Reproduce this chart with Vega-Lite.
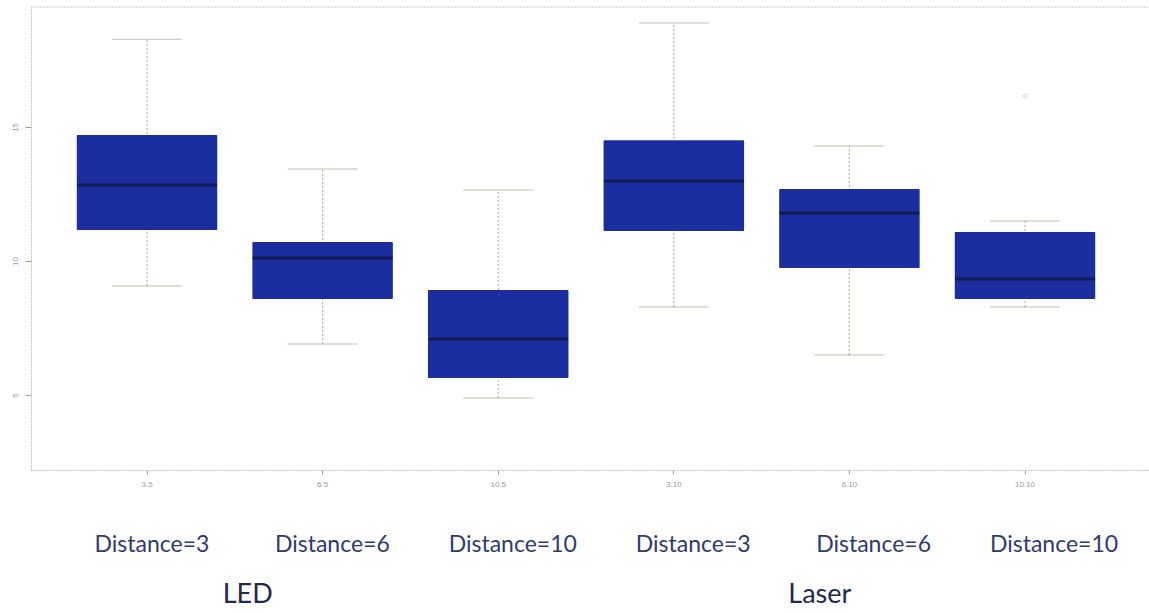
{
  "$schema": "https://vega.github.io/schema/vega-lite/v6.json",
  "autosize": {"type": "none"},
  "padding": {"left": 31, "top": 7, "right": 0, "bottom": 143},
  "width": 1118,
  "height": 463,
  "background": "white",
  "config": {
    "view": {"stroke": null},
    "font": "Lato"
  },
  "datasets": {
    "boxes": [
      {"group": "3.5", "lo": 9.07, "q1": 11.16, "med": 12.84, "q3": 14.70, "hi": 18.28},
      {"group": "6.5", "lo": 6.90, "q1": 8.58, "med": 10.11, "q3": 10.71, "hi": 13.43},
      {"group": "10.5", "lo": 4.89, "q1": 5.63, "med": 7.09, "q3": 8.92, "hi": 12.65},
      {"group": "3.10", "lo": 8.28, "q1": 11.12, "med": 12.99, "q3": 14.51, "hi": 18.88},
      {"group": "6.10", "lo": 6.49, "q1": 9.74, "med": 11.79, "q3": 12.69, "hi": 14.29},
      {"group": "10.10", "lo": 8.28, "q1": 8.58, "med": 9.33, "q3": 11.08, "hi": 11.49}
    ],
    "outliers": [
      {"group": "10.10", "value": 16.16}
    ],
    "frame": [
      {"top": 19.48}
    ],
    "labels": [
      {"group": "3.5", "label": "Distance=3"},
      {"group": "6.5", "label": "Distance=6"},
      {"group": "10.5", "label": "Distance=10"},
      {"group": "3.10", "label": "Distance=3"},
      {"group": "6.10", "label": "Distance=6"},
      {"group": "10.10", "label": "Distance=10"}
    ],
    "sources": [
      {"source": "LED"},
      {"source": "Laser"}
    ]
  },
  "layer": [
    {
      "data": {"name": "boxes"},
      "encoding": {
        "x": {
          "field": "group",
          "type": "nominal",
          "sort": null,
          "scale": {"type": "band", "paddingInner": 0.2, "paddingOuter": 0.2834, "align": 0.46},
          "axis": {
            "title": null,
            "domain": true,
            "domainColor": "#c4c6a8",
            "domainDash": [2, 1],
            "grid": false,
            "labelAngle": 0,
            "labelFontSize": 8,
            "labelColor": "#9a9a9a",
            "labelFont": "Liberation Sans",
            "labelPadding": 6,
            "tickColor": "#9aa080",
            "tickSize": 4
          }
        }
      },
      "layer": [
        {
          "data": {"name": "frame"},
          "mark": {"type": "rule", "color": "#c9c9b2", "strokeDash": [2, 1], "strokeWidth": 1},
          "encoding": {
            "x": null,
            "y": {"field": "top", "type": "quantitative"}
          }
        },
        {
          "mark": {"type": "rule", "color": "#a9ae8c", "strokeDash": [2, 2], "strokeWidth": 1},
          "encoding": {
            "y": {
              "field": "lo",
              "type": "quantitative",
              "scale": {"domain": [2.2, 19.48], "nice": false, "zero": false},
              "axis": {
                "title": null,
                "values": [5, 10, 15],
                "grid": false,
                "domain": true,
                "domainColor": "#c4c6a8",
                "domainDash": [2, 1],
                "labelAngle": -90,
                "labelAlign": "center",
                "labelBaseline": "middle",
                "labelFontSize": 8,
                "labelColor": "#9a9a9a",
                "labelFont": "Liberation Sans",
                "labelPadding": 10,
                "tickColor": "#9aa080",
                "tickSize": 6
              }
            },
            "y2": {"field": "hi"}
          }
        },
        {
          "mark": {"type": "tick", "color": "#a3a985", "size": 70, "thickness": 1, "strokeDash": [2, 1]},
          "encoding": {"y": {"field": "lo", "type": "quantitative"}}
        },
        {
          "mark": {"type": "tick", "color": "#a3a985", "size": 70, "thickness": 1, "strokeDash": [2, 1]},
          "encoding": {"y": {"field": "hi", "type": "quantitative"}}
        },
        {
          "mark": {"type": "bar", "color": "#1b2ea0", "cornerRadius": 1},
          "encoding": {
            "y": {"field": "q1", "type": "quantitative"},
            "y2": {"field": "q3"}
          }
        },
        {
          "mark": {"type": "tick", "color": "#0f1535", "size": 140, "thickness": 3},
          "encoding": {"y": {"field": "med", "type": "quantitative"}}
        },
        {
          "data": {"name": "outliers"},
          "mark": {"type": "point", "shape": "circle", "filled": false, "color": "#b0b0b0", "size": 12, "strokeWidth": 0.8},
          "encoding": {"y": {"field": "value", "type": "quantitative"}}
        }
      ]
    },
    {
      "data": {"name": "labels"},
      "mark": {"type": "text", "font": "Lato", "fontSize": 23, "color": "#2e3b6e", "baseline": "middle", "align": "center"},
      "encoding": {
        "x": {
          "field": "group",
          "type": "nominal",
          "sort": null,
          "scale": {"type": "band", "paddingInner": 0, "paddingOuter": 0.0986, "align": 0.865},
          "axis": null
        },
        "y": {"datum": -0.6, "type": "quantitative"},
        "text": {"field": "label"}
      }
    },
    {
      "data": {"name": "sources"},
      "mark": {"type": "text", "font": "Lato", "fontSize": 27, "color": "#1f2a4d", "baseline": "middle", "align": "center"},
      "encoding": {
        "x": {
          "field": "source",
          "type": "nominal",
          "sort": null,
          "scale": {"type": "point", "padding": 0.477, "align": 0.397},
          "axis": null
        },
        "y": {"datum": -2.45, "type": "quantitative"},
        "text": {"field": "source"}
      }
    }
  ],
  "resolve": {"scale": {"x": "independent"}, "axis": {"x": "independent"}}
}
